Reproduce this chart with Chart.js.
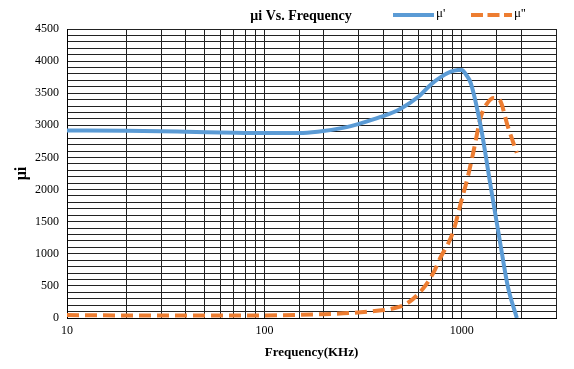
<!DOCTYPE html>
<html>
<head>
<meta charset="utf-8">
<script src="https://cdn.jsdelivr.net/npm/chart.js@4"></script>
<style>
  html, body { margin: 0; padding: 0; background: #fff; }
  #wrap { width: 574px; height: 369px; }
</style>
</head>
<body>
<div id="wrap"><canvas id="muChart" width="574" height="369"></canvas></div>
<script>
// frequência (KHz) e valores
const freqReal = [10, 20, 40, 70, 100, 150, 186, 250, 307, 388, 490, 600, 700, 782, 879, 955, 1000, 1050, 1111, 1248, 1402, 1577, 1713, 1900];
const muReal = [2920, 2915, 2900, 2885, 2880, 2880, 2900, 2960, 3030, 3130, 3260, 3440, 3640, 3750, 3835, 3860, 3862, 3790, 3655, 2975, 2040, 1105, 480, 0];

const freqImag = [10, 20, 50, 100, 200, 273, 350, 437, 532, 641, 720, 782, 850, 910, 988, 1072, 1150, 1248, 1350, 1454, 1550, 1713, 1900];
const muImag = [45, 40, 38, 40, 60, 78, 105, 140, 233, 470, 710, 950, 1150, 1370, 1790, 2195, 2616, 3130, 3350, 3425, 3400, 2975, 2570];

const xTickLabels = [10, 100, 1000];
const yTickLabels = [0, 500, 1000, 1500, 2000, 2500, 3000, 3500, 4000, 4500];

const serif = "'Liberation Serif', 'Times New Roman', serif";

// título e legenda na mesma linha, como no original
const headerPlugin = {
    id: 'header',
    afterDraw(chart) {
        const ctx = chart.ctx;
        ctx.save();
        ctx.fillStyle = '#000';
        ctx.textBaseline = 'middle';
        ctx.font = 'bold 14px ' + serif;
        ctx.textAlign = 'center';
        ctx.fillText('\u03bci Vs. Frequency', 301, 16);

        const items = [
            { x: 393, label: "\u03bc'", color: '#5B9BD5', dash: [] },
            { x: 471, label: "\u03bc''", color: '#ED7D31', dash: [12, 4.5] }
        ];
        items.forEach(it => {
            ctx.beginPath();
            ctx.setLineDash(it.dash);
            ctx.lineWidth = 4;
            ctx.lineCap = 'butt';
            ctx.strokeStyle = it.color;
            ctx.moveTo(it.x, 15);
            ctx.lineTo(it.x + 41, 15);
            ctx.stroke();
            ctx.setLineDash([]);
            ctx.font = '13px ' + serif;
            ctx.textAlign = 'left';
            ctx.fillStyle = '#000';
            ctx.fillText(it.label, it.x + 43, 14);
        });
        ctx.restore();
    }
};

const ctx = document.getElementById('muChart').getContext('2d');
const muChart = new Chart(ctx, {
    type: 'line',
    data: {
        datasets: [{
            label: "\u03bc'",
            data: freqReal.map((f, i) => ({ x: f, y: muReal[i] })),
            borderColor: '#5B9BD5',
            borderWidth: 4,
            pointRadius: 0,
            cubicInterpolationMode: 'monotone',
            fill: false
        }, {
            label: "\u03bc''",
            data: freqImag.map((f, i) => ({ x: f, y: muImag[i] })),
            borderColor: '#ED7D31',
            borderWidth: 4,
            borderDash: [12, 6],
            pointRadius: 0,
            cubicInterpolationMode: 'monotone',
            fill: false
        }]
    },
    options: {
        responsive: false,
        animation: false,
        layout: { padding: { left: 0, right: 18, top: 29, bottom: 0 } },
        plugins: {
            legend: { display: false },
            title: { display: false },
            tooltip: { enabled: false }
        },
        scales: {
            x: {
                type: 'logarithmic',
                min: 10,
                max: 3000,
                afterFit: s => { s.height = 51; },
                grid: { color: '#222', lineWidth: 1, drawTicks: false },
                border: { color: '#000', width: 1 },
                ticks: {
                    autoSkip: false,
                    maxRotation: 0,
                    padding: 6,
                    color: '#000',
                    font: { family: serif, size: 12 },
                    callback: v => xTickLabels.includes(v) ? String(v) : ''
                },
                title: {
                    display: true,
                    text: 'Frequency(KHz)',
                    color: '#000',
                    font: { family: serif, size: 13, weight: 'bold' },
                    padding: { top: 4, bottom: 9 }
                }
            },
            y: {
                min: 0,
                max: 4500,
                afterFit: s => { s.width = 67; },
                grid: { color: '#222', lineWidth: 1, drawTicks: false },
                border: { color: '#000', width: 1 },
                ticks: {
                    stepSize: 100,
                    autoSkip: false,
                    padding: 8,
                    color: '#000',
                    font: { family: serif, size: 12 },
                    callback: v => yTickLabels.includes(v) ? String(v) : ''
                },
                title: {
                    display: true,
                    text: '\u03bci',
                    color: '#000',
                    font: { family: serif, size: 16, weight: 'bold' },
                    padding: { top: 12, bottom: 2 }
                }
            }
        }
    },
    plugins: [headerPlugin]
});
</script>
</body>
</html>
